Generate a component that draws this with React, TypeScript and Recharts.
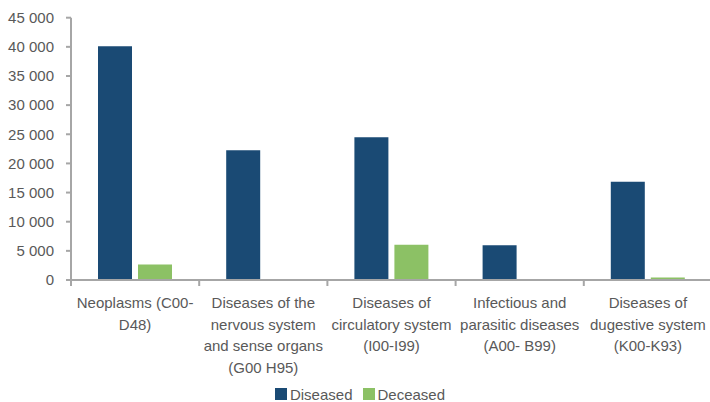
import { BarChart, Bar, XAxis, YAxis, Legend } from "recharts"

const categories = [
  "Neoplasms (C00-\nD48)",
  "Diseases of the\nnervous system\nand sense organs\n(G00 H95)",
  "Diseases of\ncirculatory system\n(I00-I99)",
  "Infectious and\nparasitic diseases\n(A00- B99)",
  "Diseases of\ndugestive system\n(K00-K93)",
]
const seriesNames = ["Diseased", "Deceased"]
const diseased = [40100, 22250, 24500, 5950, 16850]
const deceased = [2650, 0, 6050, 0, 450]
const yTicks = [0, 5000, 10000, 15000, 20000, 25000, 30000, 35000, 40000, 45000]

const data = categories.map((category, i) => ({
  category,
  diseased: diseased[i],
  deceased: deceased[i],
}))

const FONT = "'Liberation Sans', Arial, sans-serif"
const TEXT = "#595959"
const AXIS = "#A6A6A6"

const fmt = (v: number) => String(v).replace(/\B(?=(\d{3})+(?!\d))/g, " ")

// Excel-style: tick marks sit between categories, labels in the middle
function CategoryTick(props: any) {
  const { x, y, payload, index, visibleTicksCount } = props
  const half = payload.offset || 0
  const lines = String(payload.value).split("\n")
  const isLast = index === visibleTicksCount - 1
  return (
    <g>
      <line x1={x - half} x2={x - half} y1={y} y2={y + 6} stroke={AXIS} strokeWidth={2} />
      {isLast && <line x1={x + half} x2={x + half} y1={y} y2={y + 6} stroke={AXIS} strokeWidth={2} />}
      <text x={x} y={y} textAnchor="middle" fill={TEXT} fontSize={15} fontFamily={FONT}>
        {lines.map((line, i) => (
          <tspan key={i} x={x} dy={i === 0 ? 28 : 21.5}>
            {line}
          </tspan>
        ))}
      </text>
    </g>
  )
}

function LegendContent(props: any) {
  const items = [...(props.payload || [])].sort(
    (a: any, b: any) => seriesNames.indexOf(a.value) - seriesNames.indexOf(b.value)
  )
  return (
    <div
      style={{
        display: "flex",
        justifyContent: "center",
        alignItems: "center",
        gap: 10,
        paddingLeft: 8,
        height: 16,
        fontFamily: FONT,
        fontSize: 15,
        color: TEXT,
      }}
    >
      {items.map((item: any) => (
        <div key={item.value} style={{ display: "flex", alignItems: "center" }}>
          <span style={{ width: 12, height: 12, background: item.color, display: "inline-block", marginRight: 3 }} />
          <span>{item.value}</span>
        </div>
      ))}
    </div>
  )
}

export default function App() {
  return (
    <div style={{ position: "absolute", left: 0, top: 0, width: 710, height: 402, overflow: "hidden", background: "#fff" }}>
      <BarChart
        width={712}
        height={402}
        data={data}
        margin={{ top: 17.7, right: 0, left: 0, bottom: 0 }}
        barSize={34}
        barGap={6}
      >
        <XAxis
          dataKey="category"
          interval={0}
          tickLine={false}
          tickSize={0}
          tickMargin={0}
          height={106}
          stroke={AXIS}
          strokeWidth={2}
          tick={<CategoryTick />}
        />
        <YAxis
          width={71}
          domain={[0, 45000]}
          ticks={yTicks}
          tickFormatter={fmt}
          tickSize={5}
          tickMargin={12}
          stroke={AXIS}
          strokeWidth={2}
          tick={{ fill: TEXT, fontSize: 15, fontFamily: FONT }}
        />
        <Legend verticalAlign="bottom" content={<LegendContent />} />
        <Bar dataKey="diseased" name={seriesNames[0]} fill="#1A4A74" isAnimationActive={false} />
        <Bar dataKey="deceased" name={seriesNames[1]} fill="#8CC165" isAnimationActive={false} />
      </BarChart>
    </div>
  )
}
